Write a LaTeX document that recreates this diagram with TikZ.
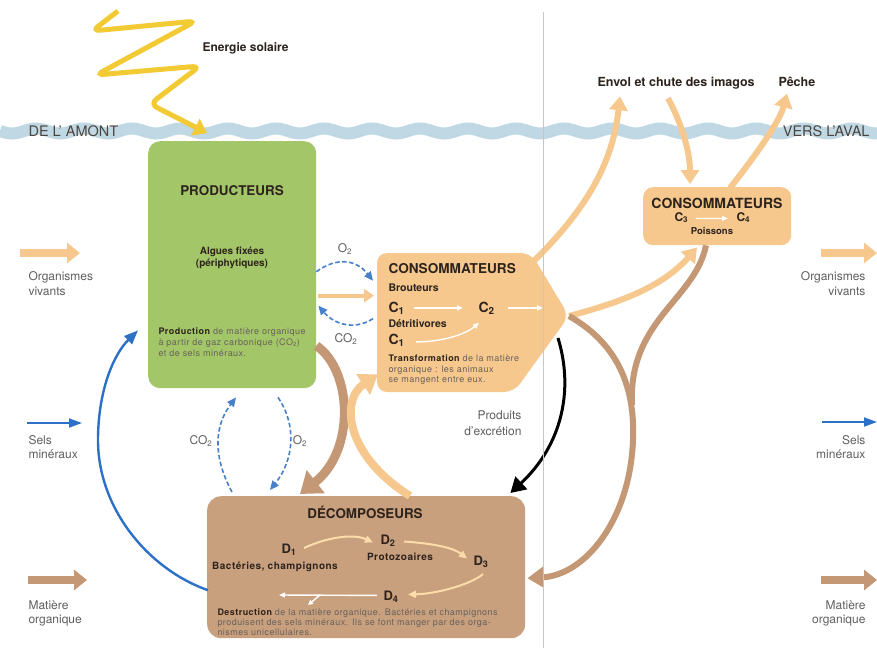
\documentclass[tikz,border=0pt]{standalone}
\usepackage{fontspec}
\setmainfont{TeX Gyre Heros}
\newfontfamily\trackedfont[LetterSpace=5]{TeX Gyre Heros}
\usetikzlibrary{arrows.meta,calc}

\definecolor{prodgreen}{RGB}{163,198,104}
\definecolor{consorange}{RGB}{246,200,142}
\definecolor{decbrown}{RGB}{201,160,126}
\definecolor{flowbrown}{RGB}{196,152,116}
\definecolor{saltblue}{RGB}{45,112,200}
\definecolor{gasblue}{RGB}{70,128,205}
\definecolor{water}{RGB}{192,216,228}
\definecolor{sun}{RGB}{242,202,52}
\definecolor{labelgray}{RGB}{95,95,95}
\definecolor{ink}{RGB}{45,35,28}
\definecolor{inner}{RGB}{252,220,170}

\tikzset{
  box/.style={inner sep=0pt, rounded corners=12pt, draw=none},
  bigtitle/.style={font=\bfseries\fontsize{13.4}{15}\selectfont, text=ink},
  subtitle/.style={font=\bfseries\fontsize{10.5}{12}\selectfont, text=ink},
  cname/.style={font=\bfseries\fontsize{14}{16}\selectfont, text=ink},
  smallbold/.style={font=\trackedfont\bfseries\fontsize{10}{11}\selectfont, text=ink},
  smalltext/.style={font=\trackedfont\fontsize{9}{10}\selectfont, text=ink!72, anchor=base west},
  legend/.style={font=\fontsize{12}{14}\selectfont, text=labelgray},
  gaslabel/.style={font=\fontsize{12}{14}\selectfont, text=labelgray},
  toplabel/.style={font=\bfseries\fontsize{12.5}{14}\selectfont, text=ink},
  orangeflow/.style={consorange, line width=6pt, -{Triangle[length=14pt,width=18pt]}},
  brownflow/.style={flowbrown, line width=6pt},
  gasflow/.style={gasblue, line width=1.6pt, dash pattern=on 4.5pt off 2.5pt, -{Triangle[length=9pt,width=8pt]}},
  whiteflow/.style={white, line width=1.4pt, -{Triangle[length=6pt,width=5pt]}},
  paleflow/.style={inner, line width=2pt, -{Triangle[length=8pt,width=7pt]}},
}

\begin{document}
\begin{tikzpicture}[x=1pt, y=-1pt]
\useasboundingbox (0,0) rectangle (877,648);
\fill[white] (0,0) rectangle (877,648);

% water surface
\draw[water, line width=12pt] plot[domain=0:877, samples=220] (\x, {131+2.5*sin(\x*7.5)});
\node[font=\fontsize{14.5}{16}\selectfont, text=ink!85, anchor=base west] (amont) at (25,136) {DE L' AMONT};
\node[font=\fontsize{14.5}{16}\selectfont, text=ink!85, anchor=base east] (aval) at (873,136) {VERS L'AVAL};

% boxes
\node[box, fill=prodgreen, minimum width=168pt, minimum height=247pt, anchor=north west] (prod) at (148,141) {};
\node[box, fill=decbrown, rounded corners=14pt, minimum width=318pt, minimum height=142pt, anchor=north west] (dec) at (207,496) {};
\node[box, fill=consorange, rounded corners=10pt, minimum width=148pt, minimum height=58pt, anchor=north west] (fish) at (643,187) {};
\node[inner sep=0pt, minimum width=192pt, minimum height=139pt, anchor=north west] (cons) at (377,253) {};
\coordinate (constip) at (569,316);
\coordinate (constop) at (518,276);

% sun
\node[toplabel, font=\bfseries\fontsize{12}{14}\selectfont, anchor=base west] (sunlabel) at (199,51) {Energie solaire};
\coordinate (sunstart) at (118,11);
\draw[sun, line width=5pt, rounded corners=8pt, -{Triangle[length=13pt,width=18pt]}]
  (sunstart) -- (92,31) -- (196,21) -- (96,75) -- (200,66) -- (150,104) -- ($(prod.north west)+(59,-8)$);

% labels above the water
\node[toplabel, anchor=base west] (envol) at (594,86) {Envol et chute des imagos};
\node[toplabel, anchor=base west] (peche) at (775,86) {Pêche};

% orange flows leaving the consumers
\draw[orangeflow] (constop) .. controls (590,210) and (613,160) .. ($(envol.south west)+(26,4)$);
\draw[orangeflow] ($(envol.south west)+(74,6)$) .. controls (680,120) and (690,150) .. ($(fish.north west)+(47,-3)$);
\draw[orangeflow] ($(fish.north west)+(87,1)$) .. controls (760,150) and (780,120) .. ($(peche.south west)+(12,4)$);
\draw[orangeflow] (constip) .. controls (610,305) and (660,290) .. ($(fish.south west)+(54,2)$);

% organic matter back to the decomposers
\draw[brownflow] (constip) .. controls (620,345) and (635,390) .. (633,440);
\draw[brownflow, -{Triangle[length=16pt,width=20pt]}] (633,440) .. controls (630,520) and (585,575) .. ($(dec.east)+(2,11)$);
\draw[brownflow] ($(fish.south west)+(63,0)$) .. controls (695,300) and (628,320) .. (632,405);
\draw[flowbrown, line width=9pt, -{Triangle[length=20pt,width=28pt]}]
  ($(prod.east)+(0,81)$) .. controls (352,370) and (356,450) .. ($(dec.north west)+(93,-2)$);

% consumers box
\fill[consorange, rounded corners=10pt] (377,253) -- (531,253) -- (constip) -- (514,392) -- (377,392) -- cycle;

% decomposers feed the consumers
\draw[consorange, line width=8pt, -{Triangle[length=18pt,width=24pt]}]
  ($(dec.north west)+(203,0)$) .. controls (345,455) and (340,400) .. ($(cons.south west)+(1,-18)$);

% excretion
\draw[black, line width=3pt, -{Triangle[length=15pt,width=17pt]}]
  (558,338) .. controls (574,390) and (562,445) .. ($(dec.north east)+(-15,-3)$);
\node[legend, anchor=base east] (excr1) at (525,419) {Produits};
\node[legend, anchor=base east] (excr2) at (525,435) {d'excrétion};

% producers to consumers
\draw[consorange, line width=4pt, -{Triangle[length=10pt,width=13pt]}] ($(prod.east)+(2,31)$) -- ($(cons.west)+(-3,-27)$);
\draw[gasflow] ($(prod.east)+(0,7)$) .. controls (335,258) and (355,258) .. ($(cons.west)+(-4,-42)$);
\draw[gasflow] ($(cons.west)+(-4,-4)$) .. controls (352,332) and (332,322) .. ($(prod.east)+(2,41)$);
\node[gaslabel] (o2a) at (345,249) {O\textsubscript{2}};
\node[gaslabel] (co2a) at (346,339) {CO\textsubscript{2}};

% producers and decomposers
\draw[gasflow] ($(dec.north west)+(25,-4)$) .. controls (212,455) and (215,425) .. ($(prod.south west)+(88,9)$);
\draw[gasflow] ($(prod.south west)+(130,9)$) .. controls (297,425) and (294,460) .. ($(dec.north west)+(63,-6)$);
\node[gaslabel] (co2b) at (201,441) {CO\textsubscript{2}};
\node[gaslabel] (o2b) at (300,441) {O\textsubscript{2}};

% mineral salts back to the producers
\draw[saltblue, line width=2.4pt, -{Triangle[length=14pt,width=11pt]}]
  ($(dec.west)+(1,23)$) .. controls (150,570) and (98,510) .. (98,440)
  .. controls (98,392) and (113,355) .. ($(prod.south west)+(-10,-58)$);

% producers text
\node[bigtitle] (prodtitle) at (232,191) {PRODUCTEURS};
\node[subtitle, font=\bfseries\fontsize{10}{12}\selectfont, align=center] (algues) at (232,258) {Algues fixées\\(périphytiques)};
\node[smalltext] (prod1) at (155,334) {\textbf{\color{ink}Production} de matière organique};
\node[smalltext] (prod2) at (155,345) {à partir de gaz carbonique (CO\textsubscript{2})};
\node[smalltext] (prod3) at (155,356) {et de sels minéraux.};

% consumers text
\node[bigtitle, font=\bfseries\fontsize{13.6}{15}\selectfont, anchor=base west] (constitle) at (385,273) {CONSOMMATEURS};
\node[subtitle, anchor=base west] (brout) at (385,291) {Brouteurs};
\node[cname, anchor=base west] (ca) at (385,312) {C\textsubscript{1}};
\node[cname, anchor=base west] (cb) at (475,312) {C\textsubscript{2}};
\node[subtitle, anchor=base west] (detr) at (385,327) {Détritivores};
\node[cname, anchor=base west] (cc) at (385,344) {C\textsubscript{1}};
\draw[whiteflow] ($(ca.east)+(6,0)$) -- ($(cb.west)+(-12,0)$);
\draw[whiteflow] ($(cb.east)+(10,0)$) -- ($(cb.east)+(45,0)$);
\draw[whiteflow] ($(cc.east)+(8,2)$) .. controls (440,342) and (465,335) .. ($(cb.south west)+(4,5)$);
\node[smalltext] (cons1) at (385,361) {\textbf{\color{ink}Transformation} de la matière};
\node[smalltext] (cons2) at (385,372) {organique : les animaux};
\node[smalltext] (cons3) at (385,382) {se mangent entre eux.};

% fish consumers
\node[font=\bfseries\fontsize{14}{16}\selectfont, text=ink, anchor=base] (fishtitle) at (717,208) {CONSOMMATEURS};
\node[cname, font=\bfseries\fontsize{12}{14}\selectfont, anchor=base west] (c3) at (671,221) {C\textsubscript{3}};
\node[cname, font=\bfseries\fontsize{12}{14}\selectfont, anchor=base west] (c4) at (733,221) {C\textsubscript{4}};
\draw[whiteflow] ($(c3.east)+(4,1)$) -- ($(c4.west)+(-5,1)$);
\node[font=\bfseries\fontsize{9.5}{11}\selectfont, text=ink, anchor=base] (poissons) at (712,234) {Poissons};

% decomposers text
\node[bigtitle, anchor=base] (dectitle) at (365,518) {DÉCOMPOSEURS};
\node[cname, font=\bfseries\fontsize{13}{15}\selectfont, anchor=base] (d1) at (289,553) {D\textsubscript{1}};
\node[smallbold, anchor=base] (bact) at (275,569) {Bactéries, champignons};
\node[cname, font=\bfseries\fontsize{13}{15}\selectfont, anchor=base] (d2) at (388,544) {D\textsubscript{2}};
\node[smallbold, anchor=base] (proto) at (400,560) {Protozoaires};
\node[cname, font=\bfseries\fontsize{13}{15}\selectfont, anchor=base] (d3) at (481,565) {D\textsubscript{3}};
\node[cname, font=\bfseries\fontsize{13}{15}\selectfont, anchor=base] (d4) at (391,600) {D\textsubscript{4}};
\draw[paleflow] ($(d1.north east)+(4,8)$) .. controls (330,536) and (355,534) .. ($(d2.west)+(-4,2)$);
\draw[paleflow] ($(d2.east)+(5,1)$) .. controls (440,544) and (455,549) .. ($(d3.west)+(-3,-3)$);
\draw[paleflow] ($(d3.south)+(2,3)$) .. controls (470,585) and (435,594) .. ($(d4.east)+(6,-2)$);
\draw[whiteflow] ($(d4.west)+(-3,-1)$) -- (279,595);
\coordinate (split) at (320,595);
\draw[white, line width=1.4pt, -{Triangle[length=5pt,width=5pt]}] (split) -- (308,605);
\node[smalltext] (dec1) at (214,615) {\textbf{\color{ink}Destruction} de la matière organique. Bactéries et champignons};
\node[smalltext] (dec2) at (214,625) {produisent des sels minéraux. Ils se font manger par des orga-};
\node[smalltext] (dec3) at (214,635) {nismes unicellulaires.};

% legends, left
\draw[consorange, line width=8pt, -{Triangle[length=13pt,width=20pt]}] (20,253) -- (80,253);
\node[legend, anchor=base west] (lvl) at (25,280) {Organismes};
\node[legend, anchor=base west] (lvl2) at (25,295) {vivants};
\draw[saltblue, line width=1.8pt, -{Triangle[length=13pt,width=9pt]}] (27,423) -- (82,423);
\node[legend, anchor=base west] (lsl) at (25,444) {Sels};
\node[legend, anchor=base west] (lsl2) at (25,458) {minéraux};
\draw[flowbrown, line width=8pt, -{Triangle[length=13pt,width=20pt]}] (28,580) -- (87,580);
\node[legend, anchor=base west] (lmo) at (25,609) {Matière};
\node[legend, anchor=base west] (lmo2) at (25,623) {organique};

% legends, right
\draw[consorange, line width=8pt, -{Triangle[length=13pt,width=20pt]}] (821,253) -- (877,253);
\node[legend, anchor=base east] (rvl) at (869,280) {Organismes};
\node[legend, anchor=base east] (rvl2) at (869,295) {vivants};
\draw[saltblue, line width=1.8pt, -{Triangle[length=13pt,width=9pt]}] (822,422) -- (877,422);
\node[legend, anchor=base east] (rsl) at (869,444) {Sels};
\node[legend, anchor=base east] (rsl2) at (869,458) {minéraux};
\draw[flowbrown, line width=8pt, -{Triangle[length=13pt,width=20pt]}] (821,580) -- (877,580);
\node[legend, anchor=base east] (rmo) at (869,609) {Matière};
\node[legend, anchor=base east] (rmo2) at (869,623) {organique};

% page fold
\draw[gray!45, line width=0.6pt] (543,12) -- (543,648);
\end{tikzpicture}
\end{document}
